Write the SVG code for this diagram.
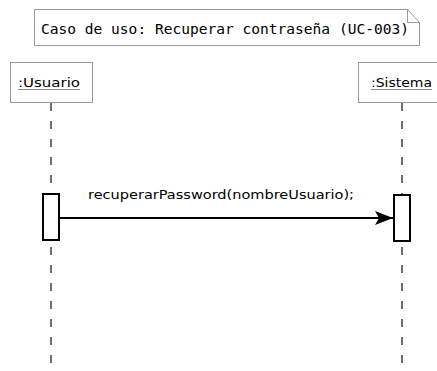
<svg xmlns="http://www.w3.org/2000/svg" width="437" height="371" viewBox="0 0 437 371">
<style>
.box{fill:#fff;stroke:#999;stroke-width:1}
.life{stroke:#222;stroke-width:1.3;stroke-dasharray:8,10;fill:none}
.act{fill:#fff;stroke:#000;stroke-width:2}
.lbl{font-family:"DejaVu Sans",sans-serif;font-size:13px;fill:#000}
.mono{font-family:"DejaVu Sans Mono",monospace;font-size:13.5px;fill:#000}
</style>
<defs>
<marker id="ah" markerWidth="20" markerHeight="16" refX="18" refY="7" orient="auto" markerUnits="userSpaceOnUse">
<polygon points="0,0 18,7 0,14 4,7" fill="#000"/>
</marker>
</defs>
<g id="note">
<path d="M34.5,9.5 H407.5 L419.5,22.5 V45.5 H34.5 Z" fill="#fff" stroke="#999"/>
<path d="M407.5,9.5 V22.5 H419.5" fill="none" stroke="#999"/>
<text class="mono" x="41" y="34" textLength="368" lengthAdjust="spacingAndGlyphs">Caso de uso: Recuperar contraseña (UC-003)</text>
</g>
<g id="usuario">
<rect class="box" x="10.5" y="62.5" width="82" height="40"/>
<text class="lbl" x="18" y="87" textLength="62" lengthAdjust="spacingAndGlyphs">:Usuario</text>
<line x1="18" y1="89.5" x2="80" y2="89.5" stroke="#888" stroke-width="1"/>
<line class="life" x1="51" y1="103" x2="51" y2="371"/>
<rect class="act" x="43" y="194" width="16" height="46"/>
</g>
<g id="sistema">
<rect class="box" x="358.5" y="62.5" width="90" height="40"/>
<text class="lbl" x="371" y="87" textLength="61" lengthAdjust="spacingAndGlyphs">:Sistema</text>
<line x1="371" y1="89.5" x2="432" y2="89.5" stroke="#888" stroke-width="1"/>
<line class="life" x1="402" y1="103" x2="402" y2="371"/>
<rect class="act" x="394" y="195" width="16" height="46"/>
</g>
<g id="connectors">
<line x1="59" y1="218" x2="393" y2="218" stroke="#000" stroke-width="2" marker-end="url(#ah)"/>
<text class="lbl" x="88" y="199" textLength="266" lengthAdjust="spacingAndGlyphs">recuperarPassword(nombreUsuario);</text>
</g>
</svg>
